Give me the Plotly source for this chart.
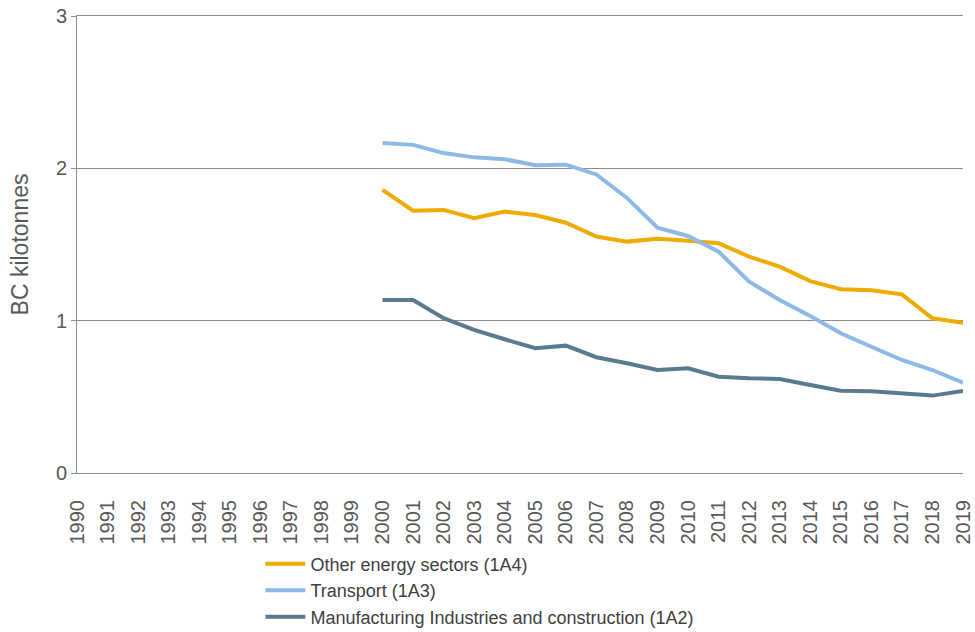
import plotly.graph_objects as go

years = [str(y) for y in range(1990, 2020)]
data_years = [str(y) for y in range(2000, 2020)]

other_energy = [1.858, 1.722, 1.727, 1.672, 1.716, 1.694, 1.643, 1.552, 1.519, 1.538,
                1.525, 1.508, 1.420, 1.355, 1.260, 1.206, 1.200, 1.173, 1.016, 0.987]
transport = [2.167, 2.154, 2.100, 2.072, 2.060, 2.020, 2.024, 1.960, 1.806, 1.610,
             1.556, 1.453, 1.256, 1.136, 1.031, 0.917, 0.829, 0.742, 0.676, 0.593]
manufacturing = [1.136, 1.136, 1.016, 0.939, 0.878, 0.819, 0.836, 0.760, 0.720, 0.676,
                 0.687, 0.632, 0.622, 0.617, 0.578, 0.540, 0.536, 0.523, 0.508, 0.538]

names = ["Other energy sectors (1A4)", "Transport (1A3)",
         "Manufacturing Industries and construction (1A2)"]
colors = ["#F0AB00", "#8DB9E6", "#587C8E"]
series = [other_energy, transport, manufacturing]

fig = go.Figure()
for n, c, s in zip(names, colors, series):
    fig.add_trace(go.Scatter(x=data_years, y=s, mode="lines", name=n,
                             line=dict(color=c, width=4)))

font = "Liberation Sans, Arial, sans-serif"
fig.update_layout(
    width=975, height=632,
    margin=dict(l=77, r=12, t=16, b=159, autoexpand=False),
    plot_bgcolor="white", paper_bgcolor="white",
    font=dict(family=font, color="#595959"),
    showlegend=True,
    legend=dict(x=0.207, y=-0.159, xanchor="left", yanchor="top",
                font=dict(size=18, color="#404040"), tracegroupgap=0,
                itemwidth=40, bgcolor="rgba(0,0,0,0)"),
    xaxis=dict(type="category", categoryorder="array", categoryarray=years,
               tickmode="array", tickvals=years, ticktext=years,
               range=[0, len(years) - 1], tickangle=-90,
               tickfont=dict(size=20, color="#595959"),
               ticklabelstandoff=18,
               showgrid=False, showline=True, mirror=True,
               linecolor="#8c8c8c", linewidth=1,
               ticks="", zeroline=False, automargin=False),
    yaxis=dict(range=[0, 3], tickvals=[0, 1, 2, 3], ticktext=["0", "1", "2", "3"],
               tickfont=dict(size=20, color="#595959"),
               showgrid=True, gridcolor="#8c8c8c", gridwidth=1,
               showline=True, linecolor="#8c8c8c", linewidth=1,
               ticks="outside", ticklen=5, tickcolor="#8c8c8c",
               zeroline=False, automargin=False,
               title=dict(text="BC kilotonnes", font=dict(size=23, color="#595959"),
                          standoff=20)),
)
fig.write_html("out.html", config={"displayModeBar": False},
               post_script="document.body.style.margin='0';")
